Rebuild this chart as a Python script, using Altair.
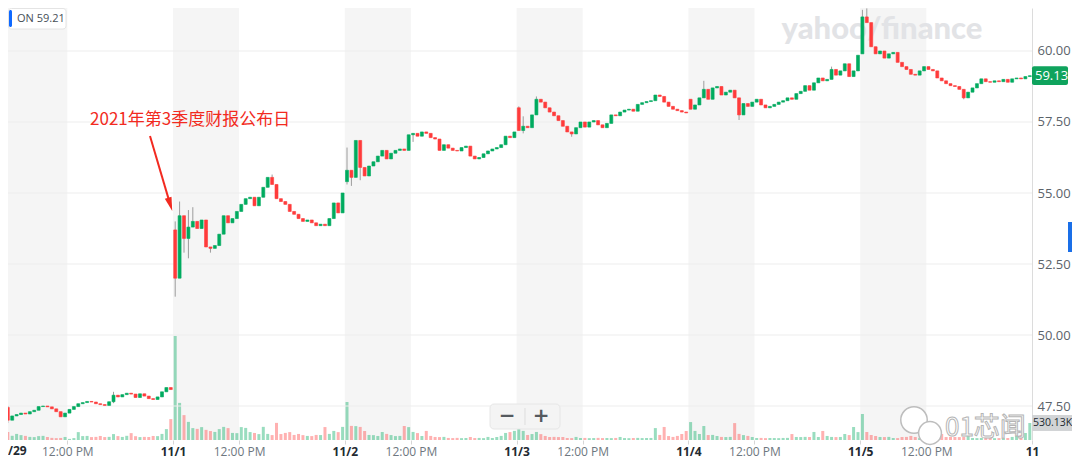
import json
import altair as alt
import pandas as pd

# ---------------- data ----------------
ticker = "ON"
header_price = "59.21"
last_price = 59.13
last_volume_k = 530.13
day_labels = ["10/29", "11/1", "11/2", "11/3", "11/4", "11/5", "11"]
noon_label = "12:00 PM"
session_hours = 6.5
hours_to_noon = 2.5
slots_per_day = 39            # 10-minute candles
price_ticks = [47.5, 50.0, 52.5, 55.0, 57.5, 60.0]
price_domain = [46.303, 61.514]
time_domain = [0.0396, 6.0]   # in trading days from 10/29 open
volume_domain_k = [0, 13478]

first_open = [46.32, 53.70, 55.40, 58.00, 58.30, 59.90]

close_1029 = [47.45, 47.0, 47.15, 47.2, 47.25, 47.22, 47.3, 47.35, 47.48, 47.5, 47.47, 47.4, 47.3,
              47.12, 47.25, 47.38, 47.48, 47.58, 47.62, 47.66, 47.64, 47.58, 47.55, 47.52, 47.65, 47.88,
              47.82, 47.9, 47.95, 47.92, 47.8, 47.93, 47.85, 47.76, 47.73, 47.82, 48.0, 48.15, 48.08]
close_1101 = [52.0, 54.2, 53.4, 53.8, 54.0, 53.75, 54.05, 53.1, 53.05, 53.15, 53.55, 54.2, 53.95,
              54.1, 54.35, 54.6, 54.8, 54.85, 54.55, 54.85, 55.2, 55.55, 55.3, 54.8, 54.7, 54.6,
              54.35, 54.25, 54.1, 54.0, 54.05, 53.95, 53.85, 53.9, 53.85, 54.1, 54.65, 54.3, 55.0]
close_1102 = [55.8, 55.55, 56.85, 55.9, 55.6, 55.95, 56.1, 56.3, 56.5, 56.2, 56.4, 56.5, 56.55,
              56.5, 57.05, 57.1, 57.0, 57.15, 57.1, 56.95, 56.9, 56.5, 56.7, 56.58, 56.5, 56.48,
              56.6, 56.65, 56.3, 56.2, 56.25, 56.38, 56.48, 56.55, 56.6, 56.7, 57.0, 56.95, 57.15]
close_1103 = [57.2, 57.35, 57.3, 57.75, 58.3, 58.2, 58.0, 57.85, 57.72, 57.55, 57.35, 57.15, 57.08,
              57.3, 57.5, 57.32, 57.5, 57.55, 57.4, 57.3, 57.45, 57.75, 57.72, 57.85, 57.92, 57.95,
              57.88, 58.12, 58.18, 58.22, 58.25, 58.45, 58.4, 58.2, 58.05, 57.95, 57.9, 57.85, 57.82]
close_1104 = [57.95, 58.1, 58.35, 58.65, 58.3, 58.7, 58.75, 58.45, 58.55, 58.62, 58.35, 57.75, 58.15,
              58.05, 58.2, 58.3, 58.1, 58.0, 58.05, 58.12, 58.2, 58.25, 58.35, 58.3, 58.5, 58.58,
              58.78, 58.62, 58.88, 59.05, 58.95, 59.0, 59.35, 59.15, 59.3, 59.55, 59.1, 59.3, 59.85]
close_1105 = [61.2, 61.0, 60.15, 59.9, 60.0, 59.75, 59.9, 59.95, 59.6, 59.45, 59.35, 59.18, 59.15,
              59.3, 59.45, 59.35, 59.3, 59.05, 58.95, 58.85, 58.78, 58.75, 58.65, 58.35, 58.55, 58.7,
              58.85, 59.02, 58.92, 58.9, 58.95, 58.92, 59.0, 58.9, 59.02, 59.05, 59.02, 59.1, 59.13]

vol_1029 = [284, 247, 131, 190, 152, 128, 97, 90, 121, 129, 93, 66, 58, 64, 95, 35, 60, 246, 122, 127,
            91, 97, 126, 92, 98, 185, 122, 96, 130, 215, 119, 91, 97, 94, 126, 121, 190, 340, 652]
vol_1101 = [3246, 1158, 776, 565, 371, 347, 402, 316, 279, 252, 340, 409, 371, 221, 214, 403, 377, 248,
            220, 184, 410, 190, 153, 534, 186, 221, 247, 158, 189, 152, 127, 122, 158, 154, 404, 190,
            283, 246, 409]
vol_1102 = [1185, 440, 433, 408, 280, 158, 152, 126, 249, 190, 154, 122, 128, 437, 402, 252, 216, 124,
            283, 127, 95, 91, 97, 64, 60, 66, 58, 63, 94, 61, 65, 59, 96, 62, 93, 128, 220, 247, 285]
vol_1103 = [563, 284, 157, 186, 251, 183, 126, 93, 97, 91, 94, 63, 59, 96, 62, 65, 58, 61, 66, 60, 63,
            59, 64, 95, 61, 57, 63, 66, 60, 62, 64, 372, 158, 407, 123, 96, 127, 188, 280]
vol_1104 = [560, 283, 188, 436, 155, 159, 124, 96, 92, 97, 528, 190, 153, 127, 94, 62, 65, 59, 63, 61,
            58, 64, 66, 186, 95, 92, 97, 94, 251, 93, 282, 126, 96, 91, 95, 188, 154, 405, 247]
vol_1105 = [812, 250, 156, 124, 95, 92, 97, 63, 60, 94, 96, 127, 93, 61, 64, 58, 95, 97, 189, 92, 96,
            94, 91, 97, 125, 62, 59, 64, 61, 63, 58, 60, 65, 62, 96, 128, 155, 219, 530.13]

# visible wicks (day index, slot, high, low)
wick_day = [0, 0, 0, 1, 1, 1, 1, 1, 1, 1, 2, 2, 2, 2, 3, 3, 3, 3, 4, 4, 4, 5, 5, 5]
wick_slot = [0, 1, 25, 0, 1, 2, 3, 4, 8, 22, 0, 1, 3, 15, 0, 1, 4, 12, 3, 11, 32, 0, 1, 23]
wick_high = [47.6, 47.5, 48.0, 54.0, 54.7, 54.2, 54.4, 54.5, 53.1, 55.65, 56.6, 55.8, 56.85, 57.1,
             58.05, 57.7, 58.4, 57.15, 58.95, 58.35, 59.45, 61.45, 61.5, 58.65]
wick_low = [46.31, 46.9, 47.6, 51.35, 52.0, 52.9, 52.7, 53.8, 52.9, 55.3, 55.3, 55.25, 55.45, 56.8,
            57.2, 57.1, 57.75, 56.98, 58.35, 57.57, 59.0, 59.9, 61.0, 58.3]

annotation_text = "2021年第3季度财报公布日"
annotation_t = [0.517]
annotation_price = [57.57]
arrow_t = [0.8661, 0.9837]
arrow_price = [57.007, 54.60]

# ---------------- build table ----------------
closes = [close_1029, close_1101, close_1102, close_1103, close_1104, close_1105]
vols = [vol_1029, vol_1101, vol_1102, vol_1103, vol_1104, vol_1105]
for arr in closes + vols:
    assert len(arr) == slots_per_day, len(arr)

rows = []
prev_close = first_open[0]
for d in range(6):
    for k in range(slots_per_day):
        o = first_open[d] if k == 0 else closes[d][k - 1]
        c = closes[d][k]
        rows.append(dict(t=d + (k + 0.5) / slots_per_day, open=o, close=c,
                         high=max(o, c), low=min(o, c), vol=vols[d][k],
                         dir="up" if c >= o else "down",
                         vdir="up" if c >= prev_close else "down"))
        prev_close = c
for d, k, h, l in zip(wick_day, wick_slot, wick_high, wick_low):
    r = rows[d * slots_per_day + k]
    r["high"] = max(r["high"], h)
    r["low"] = min(r["low"], l)
candles = pd.DataFrame(rows)

W, H = 1024, 432
GREEN, RED = "#00ab5f", "#ff3b3b"
ANN_RED = "#f22a20"

noon = hours_to_noon / session_hours
x_values = []
for d in range(7):
    if d > 0:
        x_values.append(float(d))
    if d < 6:
        x_values.append(d + noon)

x_scale = alt.Scale(domain=time_domain, nice=False, zero=False, padding=0)
y_scale = alt.Scale(domain=price_domain, nice=False, zero=False, padding=0)
v_scale = alt.Scale(domain=volume_domain_k, nice=False, padding=0)
dir_color = alt.Scale(domain=["up", "down"], range=[GREEN, RED])

is_day = "datum.value == floor(datum.value)"
x_axis = alt.Axis(
    values=x_values,
    labelExpr=f"{is_day} ? {json.dumps(day_labels)}[datum.value] : '{noon_label}'",
    labelFontWeight={"condition": {"test": is_day, "value": "bold"}, "value": "normal"},
    labelColor={"condition": {"test": is_day, "value": "#232a31"}, "value": "#6e7780"},
    labelFont="Open Sans", labelFontSize=12, labelPadding=2, labelFlush=False,
    tickSize=4, tickColor="#d6d6d6", domain=False, grid=False, title=None,
)
y_axis = alt.Axis(
    orient="right", values=price_ticks, format=".2f", ticks=False, grid=False,
    domain=True, domainColor="#dcdcdc", labelColor="#5b636a", labelFontSize=13,
    labelFont="Open Sans", labelPadding=5, title=None,
)


def xq(field):
    return alt.X(f"{field}:Q", scale=x_scale, axis=x_axis, title=None)


def yq(field):
    return alt.Y(f"{field}:Q", scale=y_scale, axis=y_axis, title=None)


one = pd.DataFrame({"a": [0]})

# background bands (session open -> 12:00 PM)
bands_df = pd.DataFrame({"start": [float(d) for d in range(6)],
                         "end": [d + noon for d in range(6)]})
bands = alt.Chart(bands_df).mark_rect(color="#f5f5f5", clip=True).encode(
    x=xq("start"), x2="end:Q", y=alt.value(0), y2=alt.value(H))

watermark = alt.Chart(one).mark_text(
    text="yahoo/finance", font="Lato", fontWeight=900, fontSize=31, color="#e2e3e6",
    align="center", baseline="alphabetic").encode(x=alt.value(874), y=alt.value(31))

# volume
vol_bars = alt.Chart(candles).mark_bar(size=3, opacity=0.4, clip=True).encode(
    x=xq("t"), y=alt.Y("vol:Q", scale=v_scale, axis=None),
    color=alt.Color("vdir:N", scale=dir_color, legend=None))
vtag_df = pd.DataFrame({"v": [last_volume_k], "lo": [last_volume_k - 250],
                        "hi": [last_volume_k + 250],
                        "label": [f"{last_volume_k:.2f}K"]})
vtag_rect = alt.Chart(vtag_df).mark_rect(color="#d2d4d6").encode(
    x=alt.value(1024), x2=alt.value(1064),
    y=alt.Y("lo:Q", scale=v_scale, axis=None), y2="hi:Q")
vtag_text = alt.Chart(vtag_df).mark_text(
    align="left", baseline="middle", fontSize=10.5, font="Open Sans", color="#232a31").encode(
    x=alt.value(1025), y=alt.Y("v:Q", scale=v_scale, axis=None), text="label:N")
volume = alt.layer(vol_bars, vtag_rect, vtag_text)

# price
grid_df = pd.DataFrame({"p": price_ticks})
grid = alt.Chart(grid_df).mark_rule(color="#ededed", strokeWidth=1).encode(y=yq("p"))
wicks = alt.Chart(candles).mark_rule(color="#9c9c9c", strokeWidth=1, clip=True).encode(
    x=xq("t"), y=yq("low"), y2="high:Q")
bodies = alt.Chart(candles).mark_bar(size=3, strokeWidth=0.6, clip=True).encode(
    x=xq("t"), y=yq("open"), y2="close:Q",
    color=alt.Color("dir:N", scale=dir_color, legend=None),
    stroke=alt.Stroke("dir:N", scale=dir_color, legend=None))

ann_df = pd.DataFrame({"t": annotation_t, "p": annotation_price, "label": [annotation_text]})
ann_text = alt.Chart(ann_df).mark_text(
    align="left", baseline="middle", fontSize=17, font="Noto Sans CJK SC",
    color=ANN_RED).encode(x=xq("t"), y=yq("p"), text="label:N")
arrow_df = pd.DataFrame({"t0": [arrow_t[0]], "t1": [arrow_t[1]],
                         "p0": [arrow_price[0]], "p1": [arrow_price[1]]})
arrow = alt.Chart(arrow_df).mark_rule(color=ANN_RED, strokeWidth=2).encode(
    x=xq("t0"), x2="t1:Q", y=yq("p0"), y2="p1:Q")
head_df = pd.DataFrame({"t": [arrow_t[1]], "p": [arrow_price[1]]})
head = alt.Chart(head_df).mark_point(
    shape="M-0.5,-1L0.5,-1L0,1Z", filled=True, size=196, angle=343, color=ANN_RED,
    opacity=1).encode(x=xq("t"), y=yq("p"))

ptag_df = pd.DataFrame({"p": [last_price], "lo": [last_price - 0.33], "hi": [last_price + 0.33],
                        "label": [f"{last_price:.2f}"]})
ptag_rect = alt.Chart(ptag_df).mark_rect(color="#0fa35d", cornerRadius=2).encode(
    x=alt.value(1024), x2=alt.value(1060), y=yq("lo"), y2="hi:Q")
ptag_text = alt.Chart(ptag_df).mark_text(
    align="left", baseline="middle", fontSize=13, font="Open Sans", color="white").encode(
    x=alt.value(1027), y=yq("p"), text="label:N")

price = alt.layer(grid, wicks, bodies, arrow, head, ann_text, ptag_rect, ptag_text)

# overlays (page furniture)
box = alt.Chart(one).mark_rect(fill="white", stroke="#e4e4e4", cornerRadius=3).encode(
    x=alt.value(0.5), x2=alt.value(58), y=alt.value(0.5), y2=alt.value(21))
box_bar = alt.Chart(one).mark_rect(fill="#0f69ff", cornerRadius=2).encode(
    x=alt.value(1), x2=alt.value(4), y=alt.value(2), y2=alt.value(19))
box_text = alt.Chart(one).mark_text(
    text=f"{ticker}  {header_price}", align="left", baseline="middle", fontSize=11,
    font="Open Sans", color="#464e56").encode(x=alt.value(9), y=alt.value(10.5))
day0_label = alt.Chart(one).mark_text(
    text=day_labels[0][2:], align="left", baseline="top", fontSize=12, font="Open Sans",
    fontWeight="bold", color="#232a31").encode(x=alt.value(0), y=alt.value(H + 6))
side_tab = alt.Chart(one).mark_rect(fill="#1a6fe8").encode(
    x=alt.value(1060), x2=alt.value(1064), y=alt.value(214), y2=alt.value(244))

zoom_box = alt.Chart(one).mark_rect(fill="#f4f4f4", stroke="#e6e6e6", cornerRadius=4).encode(
    x=alt.value(482), x2=alt.value(552), y=alt.value(396), y2=alt.value(421))
zoom_div = alt.Chart(one).mark_rule(color="#dddddd").encode(
    x=alt.value(517), y=alt.value(400), y2=alt.value(417))
zoom_minus = alt.Chart(one).mark_text(
    text="−", fontSize=20, fontWeight="bold", font="DejaVu Sans", color="#555a5f",
    align="center", baseline="middle").encode(x=alt.value(499), y=alt.value(408))
zoom_plus = alt.Chart(one).mark_text(
    text="+", fontSize=20, fontWeight="bold", font="DejaVu Sans", color="#555a5f",
    align="center", baseline="middle").encode(x=alt.value(533), y=alt.value(408))

wx_big = alt.Chart(one).mark_point(shape="circle", size=700, filled=True, fill="white",
                                   stroke="#bdbdbd", strokeWidth=1.5, opacity=1).encode(
    x=alt.value(906), y=alt.value(412))
wx_small = alt.Chart(one).mark_point(shape="circle", size=520, filled=True, fill="white",
                                     stroke="#bdbdbd", strokeWidth=1.5, opacity=1).encode(
    x=alt.value(922), y=alt.value(425))
wx_text = alt.Chart(one).mark_text(
    text="01芯闻", fontSize=26, font="Noto Sans CJK SC", fill="white", stroke="#b5b5b5",
    strokeWidth=1, align="left", baseline="middle").encode(x=alt.value(937), y=alt.value(420))

chart = alt.layer(
    bands, watermark, volume, price,
    box, box_bar, box_text, day0_label, side_tab,
    zoom_box, zoom_div, zoom_minus, zoom_plus,
    wx_big, wx_small, wx_text,
).resolve_scale(y="independent").properties(
    width=W, height=H, background="white",
    autosize=alt.AutoSizeParams(type="none"),
    padding={"left": 0, "top": 0, "right": 40, "bottom": 22},
).configure_view(strokeWidth=0)

chart.save("out.html", embed_options={"renderer": "svg", "actions": False})
